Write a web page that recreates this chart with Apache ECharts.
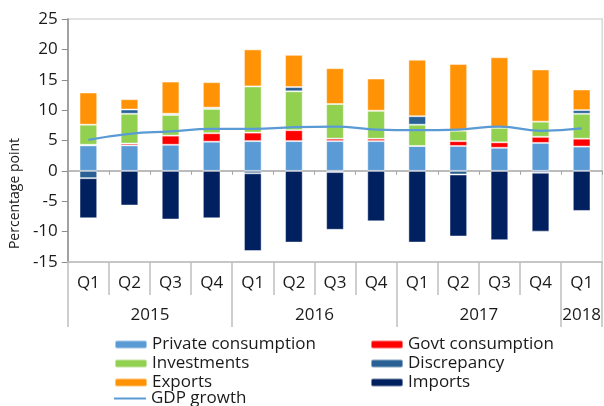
<!DOCTYPE html>
<html>
<head>
<meta charset="utf-8">
<script src="https://cdn.jsdelivr.net/npm/echarts@6/dist/echarts.min.js"></script>
<style>
  html, body { margin: 0; padding: 0; background: #fff; }
  #chart { width: 604px; height: 406px; }
</style>
</head>
<body>
<div id="chart"></div>
<script>
const quarters = ['Q1', 'Q2', 'Q3', 'Q4', 'Q1', 'Q2', 'Q3', 'Q4', 'Q1', 'Q2', 'Q3', 'Q4', 'Q1']
const years = ['2015', '2016', '2017', '2018']
const yearSpan = [4, 4, 4, 1]

const privateCons = [4.2, 4.2, 4.3, 4.8, 4.9, 4.9, 4.9, 4.9, 4.1, 4.1, 3.8, 4.6, 4.0]
const govtCons = [0.1, 0.3, 1.5, 1.4, 1.4, 1.8, 0.4, 0.4, 0.0, 0.8, 0.9, 1.0, 1.3]
const investments = [3.3, 4.9, 3.4, 4.0, 7.6, 6.4, 5.7, 4.6, 3.5, 1.7, 2.4, 2.5, 4.1]
const discrepancy = [-1.2, 0.7, 0.2, 0.2, -0.4, 0.7, -0.2, 0.0, 1.4, -0.6, 0.0, -0.3, 0.6]
const exportsData = [5.3, 1.7, 5.3, 4.2, 6.1, 5.3, 5.9, 5.3, 9.3, 11.0, 11.6, 8.6, 3.4]
const importsData = [-6.6, -5.7, -8.0, -7.8, -12.8, -11.8, -9.5, -8.3, -11.8, -10.2, -11.4, -9.7, -6.6]
const gdpGrowth = [5.1, 6.1, 6.5, 6.9, 6.9, 7.2, 7.3, 6.8, 6.7, 6.8, 7.3, 6.6, 7.0]

// year group borders and centres on a 0..13 value axis
let yearEdges = [0]
let yearCenters = []
yearSpan.forEach((n, i) => {
  yearCenters.push(yearEdges[i] + n / 2)
  yearEdges.push(yearEdges[i] + n)
})

const font = 'Open Sans'
const textColor = '#1a1a1a'
const legendText = { fontSize: 17, color: textColor, lineHeight: 16, fontFamily: font }

function barSeries(name, data, color) {
  return {
    name: name,
    type: 'bar',
    stack: 'gdp',
    xAxisIndex: 0,
    barWidth: '43%',
    data: data,
    itemStyle: { color: color, borderColor: 'rgba(255,255,255,0.45)', borderWidth: 1 }
  }
}

const chart = echarts.init(document.getElementById('chart'), null, { renderer: 'canvas' })

chart.setOption({
  animation: false,
  textStyle: { fontFamily: font },
  grid: {
    left: 65.7, right: 1.3, top: 19, bottom: 144,
    show: true, borderColor: '#d9d9d9', borderWidth: 1.5
  },
  legend: [
    {
      left: 114, top: 336, orient: 'vertical', padding: 0,
      itemWidth: 32, itemHeight: 8, itemGap: 2,
      textStyle: legendText,
      data: ['Private consumption', 'Investments', 'Exports']
    },
    {
      left: 114, top: 390, orient: 'vertical', padding: 0,
      itemWidth: 32, itemHeight: 2, itemGap: 2,
      textStyle: legendText,
      data: [{ name: 'GDP growth', icon: 'rect' }]
    },
    {
      left: 370, top: 336, orient: 'vertical', padding: 0,
      itemWidth: 32, itemHeight: 8, itemGap: 2,
      textStyle: legendText,
      data: ['Govt consumption', 'Discrepancy', 'Imports']
    }
  ],
  xAxis: [
    {
      // zero line
      type: 'category',
      data: quarters,
      axisLine: { onZero: true, lineStyle: { color: '#a6a6a6', width: 1.5 } },
      axisTick: { show: true, length: 4, lineStyle: { color: '#a6a6a6' } },
      axisLabel: { show: false }
    },
    {
      type: 'category',
      data: quarters,
      position: 'bottom',
      axisLine: { onZero: false, lineStyle: { color: '#bfbfbf', width: 1.5 } },
      axisTick: { show: true, length: 33, lineStyle: { color: '#bfbfbf', width: 1.5 } },
      axisLabel: { show: true, fontSize: 17, color: textColor, margin: 13, fontFamily: font }
    },
    {
      type: 'value',
      min: 0,
      max: quarters.length,
      position: 'bottom',
      splitLine: { show: false },
      axisLine: { show: false, onZero: false },
      axisTick: { show: true, customValues: yearEdges, length: 65, lineStyle: { color: '#bfbfbf', width: 1.5 } },
      axisLabel: {
        show: true, customValues: yearCenters, fontSize: 17, color: textColor, margin: 45, fontFamily: font,
        formatter: function (v) { return years[yearCenters.indexOf(v)] }
      }
    }
  ],
  yAxis: {
    type: 'value',
    min: -15,
    max: 25,
    interval: 5,
    splitLine: { show: false },
    axisLine: { show: true, lineStyle: { color: '#8c8c8c', width: 1.5 } },
    axisTick: { show: true, length: 6, lineStyle: { color: '#8c8c8c' } },
    axisLabel: { fontSize: 17, color: textColor, margin: 10, fontFamily: font },
    name: 'Percentage point',
    nameLocation: 'middle',
    nameGap: 39,
    nameTextStyle: { fontSize: 14, color: textColor, fontFamily: font, padding: [0, 106, 0, 0] }
  },
  series: [
    barSeries('Private consumption', privateCons, '#5B9BD5'),
    barSeries('Govt consumption', govtCons, '#FF0000'),
    barSeries('Investments', investments, '#92D050'),
    barSeries('Discrepancy', discrepancy, '#2A6195'),
    barSeries('Exports', exportsData, '#FF9205'),
    barSeries('Imports', importsData, '#00205F'),
    {
      name: 'GDP growth',
      type: 'line',
      xAxisIndex: 0,
      data: gdpGrowth,
      smooth: true,
      symbol: 'none',
      lineStyle: { color: '#5B9BD5', width: 2.2 },
      itemStyle: { color: '#5B9BD5' }
    }
  ]
})
</script>
</body>
</html>
